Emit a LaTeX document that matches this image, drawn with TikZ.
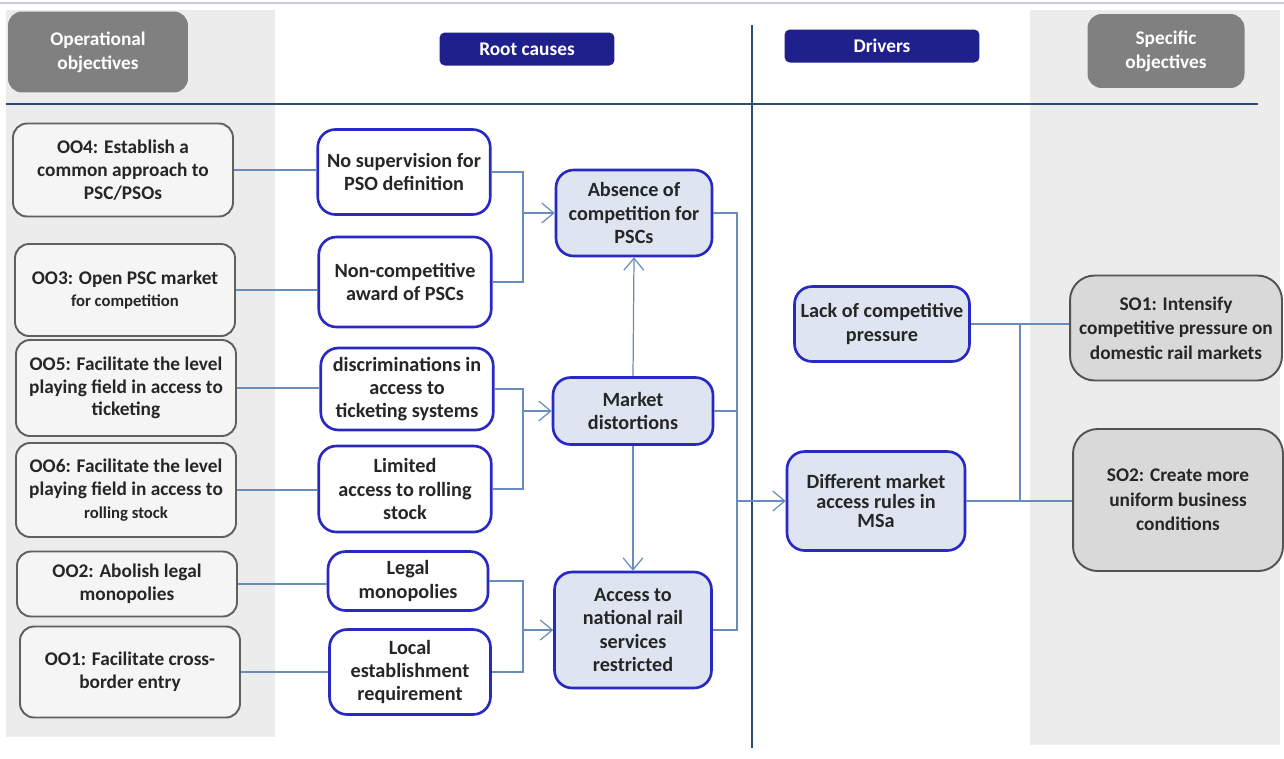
\documentclass[tikz,border=0pt]{standalone}
\usepackage{fontspec}
\setmainfont{Carlito}
\usetikzlibrary{arrows.meta,positioning,shapes}
\definecolor{bandgrey}{RGB}{236,236,236}
\definecolor{hdrgrey}{RGB}{128,128,128}
\definecolor{hdrnavy}{RGB}{32,32,140}
\definecolor{causeblue}{RGB}{40,40,195}
\definecolor{corefill}{RGB}{222,229,241}
\definecolor{linkblue}{RGB}{105,140,190}
\definecolor{ruleblue}{RGB}{45,75,115}
\definecolor{toprule}{RGB}{200,200,228}
\tikzset{
  oobox/.style={draw=gray!75!black, fill=gray!8, rounded corners=8pt, line width=1.1pt,
    minimum width=4.4cm, align=center, font=\bfseries\fontsize{11}{13}\selectfont, text=black!85},
  causebox/.style={draw=causeblue, fill=white, rounded corners=10pt, line width=1.5pt,
    minimum width=3.45cm, align=center, font=\bfseries\fontsize{11.5}{13.2}\selectfont, text=black!85},
  corebox/.style={causebox, fill=corefill},
  sobox/.style={draw=gray!65!black, fill=gray!30, rounded corners=14pt, line width=1.1pt,
    align=center, font=\bfseries\fontsize{11}{14}\selectfont, text=black!85},
  hdrbox/.style={fill=hdrgrey, rounded corners=8pt, align=center, text=white,
    font=\bfseries\fontsize{11}{13.5}\selectfont},
  navybox/.style={fill=hdrnavy, rounded corners=3pt, text=white, font=\bfseries\fontsize{11}{13}\selectfont},
  link/.style={draw=linkblue, line width=0.7pt},
  arr/.style={link, -{Straight Barb[length=2.4mm,width=4mm]}}
}
\begin{document}
\begin{tikzpicture}[x=0.02cm, y=-0.02cm]
    \useasboundingbox (0,0) rectangle (1284,758);
    \fill[bandgrey] (6,10) rectangle (275,737);
    \fill[bandgrey] (1030,10) rectangle (1280,745);
    \draw[toprule, line width=1.2pt] (0,3) -- (1284,3);
    \draw[ruleblue, line width=1.3pt] (6,104) -- (1258,104);
    \draw[ruleblue, line width=1.3pt] (752,25) -- (752,748);

    \node[hdrbox, minimum width=3.6cm, minimum height=1.62cm] (hdrOO) at (98,52) {Operational\\objectives};
    \node[navybox, minimum width=3.5cm, minimum height=0.66cm] (hdrRC) at (527,49) {Root causes};
    \node[navybox, minimum width=3.9cm, minimum height=0.66cm] (hdrDR) at (882,46) {Drivers};
    \node[hdrbox, minimum width=3.14cm, minimum height=1.48cm] (hdrSO) at (1166,51) {Specific\\objectives};

    \node[oobox, minimum height=1.86cm] (oo4) at (123,170) {OO4: Establish a\\common approach to\\PSC/PSOs};
    \node[oobox, minimum height=1.84cm] (oo3) at (125,290) {OO3: Open PSC market\\{\fontsize{9.5}{13}\selectfont for competition}};
    \node[oobox, minimum height=1.92cm] (oo5) at (126,388) {OO5: Facilitate the level\\playing field in access to\\ticketing};
    \node[oobox, minimum height=1.88cm] (oo6) at (126,490) {OO6: Facilitate the level\\playing field in access to\\{\fontsize{9.5}{13}\selectfont rolling stock}};
    \node[oobox, minimum height=1.3cm] (oo2) at (127,584) {OO2: Abolish legal\\monopolies};
    \node[oobox, minimum height=1.82cm] (oo1) at (130,672) {OO1: Facilitate cross-\\border entry};

    \node[causebox, minimum height=1.7cm] (nosup) at (404,172) {No supervision for\\PSO definition};
    \node[causebox, minimum height=1.8cm] (noncomp) at (405,282) {Non-competitive\\award of PSCs};
    \node[causebox, minimum height=1.64cm] (discr) at (407,389) {discriminations in\\access to\\ticketing systems};
    \node[causebox, minimum height=1.72cm] (rolling) at (405,489) {Limited\\access to rolling\\stock};
    \node[causebox, minimum width=3.2cm, minimum height=1.18cm] (legal) at (408,581) {Legal\\monopolies};
    \node[causebox, minimum width=3.22cm, minimum height=1.7cm] (local) at (410,672) {Local\\establishment\\requirement};

    \node[corebox, minimum width=3.12cm, minimum height=1.72cm] (absence) at (634,213) {Absence of\\competition for\\PSCs};
    \node[corebox, minimum width=3.2cm, minimum height=1.34cm] (distort) at (633,411) {Market\\distortions};
    \node[corebox, minimum width=3.14cm, minimum height=2.32cm] (restrict) at (633,630) {Access to\\national rail\\services\\restricted};

    \node[corebox, minimum width=3.5cm, minimum height=1.5cm] (lack) at (882,324) {Lack of competitive\\pressure};
    \node[corebox, minimum width=3.56cm, minimum height=1.98cm, font=\bfseries\fontsize{11.5}{11}\selectfont] (rules) at (876,501) {Different market\\access rules in\\MSa};

    \node[sobox, minimum width=4.24cm, minimum height=2.1cm] (so1) at (1176,328) {SO1: Intensify\\competitive pressure on\\domestic rail markets};
    \node[sobox, minimum width=4.2cm, minimum height=2.84cm] (so2) at (1178,500) {SO2: Create more\\uniform business\\conditions};

    \coordinate (jl) at (523,0);
    \coordinate (jm) at (737,0);
    \coordinate (jr) at (1020,0);

    \foreach \from/\to in {oo4/nosup,oo3/noncomp,oo5/discr,oo6/rolling,oo2/legal,oo1/local}
    \draw[link] (\from.east) -- (\to.west |- \from.east);

    \draw[link] (nosup.east) -- (nosup.east -| jl) -- (noncomp.east -| jl) -- (noncomp.east);
    \draw[link] (discr.east) -- (discr.east -| jl) -- (rolling.east -| jl) -- (rolling.east);
    \draw[link] (legal.east) -- (legal.east -| jl) -- (local.east -| jl) -- (local.east);
    \draw[arr] (jl |- absence.west) -- (absence.west);
    \draw[arr] (jl |- distort.west) -- (distort.west);
    \draw[arr] (jl |- restrict.west) -- (restrict.west);

    \draw[arr] (distort.north) -- (absence.south);
    \draw[arr] (distort.south) -- (restrict.north);

    \draw[link] (absence.east) -- (absence.east -| jm) -- (restrict.east -| jm) -- (restrict.east);
    \draw[link] (distort.east) -- (distort.east -| jm);
    \draw[arr] (jm |- rules.west) -- (rules.west);

    \draw[link] (lack.east) -- (so1.west |- lack.east);
    \draw[link] (rules.east) -- (so2.west |- rules.east);
    \draw[link] (jr |- lack.east) -- (jr |- rules.east);
\end{tikzpicture}
\end{document}
